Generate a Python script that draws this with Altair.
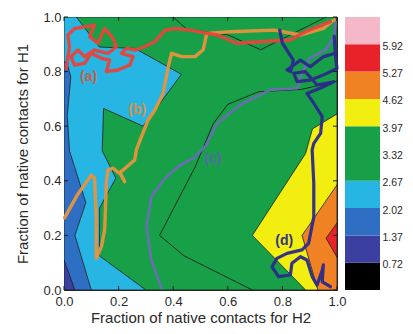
import altair as alt
import pandas as pd

# ---------------- data ----------------
# contour regions (polygon vertices, fraction units)
green_x = [0, 1, 1, 0]
green_y = [0, 0, 1, 1]
cyan_x = [0, 0.30, 0.13, 0.13, 0.19, 0.14, 0.145, 0.29, 0.43, 0.26, 0.13, 0.045, 0]
cyan_y = [0, 0, 0.125, 0.30, 0.41, 0.51, 0.665, 0.60, 0.79, 0.885, 0.89, 1.0, 1.0]
blue_x = [0, 0.10, 0.04, 0.08, 0.02, 0.012, 0.025, 0.01, 0]
blue_y = [0, 0, 0.20, 0.32, 0.51, 0.64, 0.78, 0.835, 0.835]
dkblue_x = [0, 0.04, 0]
dkblue_y = [0, 0, 0.11]
yellow_x = [1.0, 0.91, 0.885, 0.69, 0.885, 1.0]
yellow_y = [0.645, 0.59, 0.50, 0.20, 0.0, 0.0]
orange_x = [1.0, 0.872, 0.93, 1.0]
orange_y = [0.385, 0.20, 0.0, 0.0]
red_x = [1.0, 0.96, 1.0]
red_y = [0.245, 0.19, 0.12]

# contour lines inside the green band (level 3.32)
line1_x = [0.69, 0.44, 0.35, 0.48, 0.547, 0.60, 0.712, 0.87, 1.0]
line1_y = [0.0, 0.125, 0.20, 0.45, 0.61, 0.68, 0.726, 0.735, 0.765]
line2_x = [0.96, 0.72, 0.60, 0.45, 0.40]
line2_y = [1.0, 0.88, 0.935, 0.955, 1.0]

# trajectories
a_x = [0.008, 0.02, 0.014, 0.039, 0.082, 0.112, 0.094, 0.124, 0.149, 0.18, 0.192, 0.161, 0.112, 0.075,
       0.051, 0.026, 0.039, 0.075, 0.1, 0.137, 0.167, 0.155, 0.198, 0.241, 0.253, 0.21, 0.229, 0.259,
       0.296, 0.333, 0.37, 0.406, 0.461, 0.56, 0.633, 0.731, 0.829, 0.884, 0.976]
a_y = [0.812, 0.891, 0.934, 0.958, 0.965, 0.971, 0.928, 0.904, 0.958, 0.922, 0.891, 0.867, 0.879, 0.855,
       0.879, 0.855, 0.824, 0.83, 0.867, 0.849, 0.842, 0.80, 0.806, 0.824, 0.855, 0.867, 0.885, 0.879,
       0.891, 0.91, 0.952, 0.958, 0.952, 0.934, 0.904, 0.91, 0.916, 0.946, 0.983]
b_x = [0.002, 0.05, 0.10, 0.112, 0.118, 0.118, 0.137, 0.149, 0.155, 0.161, 0.18, 0.21, 0.222, 0.205,
       0.259, 0.265, 0.308, 0.333, 0.363, 0.382, 0.394, 0.431, 0.48, 0.51, 0.523, 0.61, 0.77, 0.866,
       0.95, 0.99]
b_y = [0.264, 0.35, 0.42, 0.41, 0.268, 0.116, 0.159, 0.22, 0.39, 0.44, 0.446, 0.421, 0.397, 0.43,
       0.476, 0.513, 0.623, 0.659, 0.72, 0.818, 0.867, 0.855, 0.855, 0.88, 0.94, 0.946, 0.952, 0.934,
       0.958, 0.99]
c_x = [0.357, 0.32, 0.302, 0.32, 0.37, 0.418, 0.48, 0.52, 0.56, 0.645, 0.755, 0.854, 0.87, 0.90,
       0.96, 0.99, 0.995]
c_y = [0.006, 0.11, 0.232, 0.342, 0.409, 0.452, 0.488, 0.53, 0.61, 0.678, 0.733, 0.739, 0.79, 0.85,
       0.88, 0.93, 0.98]
d_x = [0.79, 0.80, 0.84, 0.83, 0.817, 0.866, 0.902, 0.951, 0.994, 0.99, 0.995, 1.0, 0.951, 0.902,
       0.854, 0.841, 0.884, 0.927, 0.988, 0.94, 0.89, 0.915, 0.946, 0.94, 0.915, 0.909, 0.915, 0.915,
       0.896, 0.872, 0.817, 0.78, 0.762, 0.786, 0.829, 0.835, 0.866, 0.89, 0.909, 0.927, 0.946, 0.95,
       0.946, 0.976]
d_y = [0.952, 0.904, 0.842, 0.80, 0.806, 0.842, 0.818, 0.855, 0.867, 0.93, 0.85, 0.812, 0.788, 0.769,
       0.763, 0.794, 0.80, 0.751, 0.763, 0.74, 0.72, 0.684, 0.635, 0.574, 0.537, 0.513, 0.39, 0.268,
       0.171, 0.147, 0.134, 0.116, 0.085, 0.049, 0.055, 0.098, 0.122, 0.11, 0.049, 0.018, 0.073, 0.092,
       0.03, 0.012]

labels = ["(a)", "(b)", "(c)", "(d)"]
label_x = [0.09, 0.268, 0.546, 0.807]
label_y = [0.78, 0.66, 0.48, 0.18]

# colour bar
cb_lo = [0.07, 0.72, 1.37, 2.02, 2.67, 3.97, 4.62, 5.27, 5.92]
cb_hi = [0.72, 1.37, 2.02, 2.67, 3.97, 4.62, 5.27, 5.92, 6.57]
cb_ticks = [0.72, 1.37, 2.02, 2.67, 3.32, 3.97, 4.62, 5.27, 5.92]
ticks = [0, 0.2, 0.4, 0.6, 0.8, 1.0]

# ---------------- styles ----------------
C_BLACK = "#000000"
C_DKBLUE = "#3b3f9f"
C_BLUE = "#2f6fc3"
C_CYAN = "#27b5e3"
C_GREEN = "#17a048"
C_YELLOW = "#f2ee10"
C_ORANGE = "#f08224"
C_RED = "#e82228"
C_PINK = "#f5b8c8"
cb_color = [C_BLACK, C_DKBLUE, C_BLUE, C_CYAN, C_GREEN, C_YELLOW, C_ORANGE, C_RED, C_PINK]

W = H = 273
FONT = "Liberation Sans"


def poly(xs, ys, color):
    coords = [[x, y] for x, y in zip(xs, ys)]
    coords.append(coords[0])
    return {"type": "Feature", "properties": {"color": color},
            "geometry": {"type": "Polygon", "coordinates": [coords]}}


features = [
    poly(green_x, green_y, C_GREEN),
    poly(cyan_x, cyan_y, C_CYAN),
    poly(blue_x, blue_y, C_BLUE),
    poly(dkblue_x, dkblue_y, C_DKBLUE),
    poly(yellow_x, yellow_y, C_YELLOW),
    poly(orange_x, orange_y, C_ORANGE),
    poly(red_x, red_y, C_RED),
]

xscale = alt.Scale(domain=[0, 1], nice=False, zero=False)
yscale = alt.Scale(domain=[0, 1], nice=False, zero=False)
xaxis = alt.Axis(values=ticks, format=".1f", labelFlush=False, ticks=False, domain=False, grid=False,
                 labelPadding=5, labelFontSize=13, labelColor="#2a2a2a",
                 title="Fraction of native contacts for H2", titleFontSize=15, titleFontWeight="normal",
                 titleColor="#2a2a2a", titlePadding=2, labelFont=FONT, titleFont=FONT)
yaxis = alt.Axis(values=ticks, format=".1f", labelFlush=False, ticks=False, domain=False, grid=False,
                 labelPadding=3, labelFontSize=13, labelColor="#2a2a2a",
                 title="Fraction of native contacts for H1", titleFontSize=15, titleFontWeight="normal",
                 titleColor="#2a2a2a", titlePadding=12, labelFont=FONT, titleFont=FONT)


def X(f):
    return alt.X(f, type="quantitative", scale=xscale, axis=xaxis)


def Y(f):
    return alt.Y(f, type="quantitative", scale=yscale, axis=yaxis)


geo = alt.Chart(alt.Data(values=features)).mark_geoshape(
    stroke="#1e1e1e", strokeWidth=0.8
).encode(
    color=alt.Color("properties.color:N", scale=None)
).project(type="identity", scale=W, translate=[0, H], reflectY=True)


def path_df(xs, ys, name):
    return pd.DataFrame({"x": xs, "y": ys, "k": name, "o": list(range(len(xs)))})


clines = pd.concat([path_df(line1_x, line1_y, "l1"), path_df(line2_x, line2_y, "l2")])
contour_lines = alt.Chart(clines).mark_line(color="#1e1e1e", strokeWidth=0.9).encode(
    x=X("x"), y=Y("y"), detail="k:N", order="o:Q")


def traj(xs, ys, name, color, width):
    return alt.Chart(path_df(xs, ys, name)).mark_line(
        color=color, strokeWidth=width, strokeJoin="round", strokeCap="round", opacity=0.95
    ).encode(x=X("x"), y=Y("y"), order="o:Q")


t_c = traj(c_x, c_y, "c", "#6e6cb8", 2.6)
t_b = traj(b_x, b_y, "b", "#e8943c", 3.4)
t_a = traj(a_x, a_y, "a", "#e8453a", 3.4)
t_d = traj(d_x, d_y, "d", "#2b2a8c", 3.2)

lab_df = pd.DataFrame({"x": label_x, "y": label_y, "t": labels,
                       "c": ["#c8604c", "#d89048", "#5a66ae", "#34348a"]})
lab = alt.Chart(lab_df).mark_text(fontSize=14, font=FONT, fontWeight="bold").encode(
    x=X("x"), y=Y("y"), text="t:N", color=alt.Color("c:N", scale=None))

tick_df = pd.DataFrame({"v": ticks})
tk_bottom = alt.Chart(tick_df).mark_rule(color="#1e1e1e").encode(x=X("v"), y=alt.value(H), y2=alt.value(H - 4))
tk_top = alt.Chart(tick_df).mark_rule(color="#1e1e1e").encode(x=X("v"), y=alt.value(0), y2=alt.value(4))
tk_left = alt.Chart(tick_df).mark_rule(color="#1e1e1e").encode(y=Y("v"), x=alt.value(0), x2=alt.value(4))
tk_right = alt.Chart(tick_df).mark_rule(color="#1e1e1e").encode(y=Y("v"), x=alt.value(W), x2=alt.value(W - 4))

main = alt.layer(geo, contour_lines, t_c, t_b, t_a, t_d, lab, tk_bottom, tk_top, tk_left, tk_right)

cb_df = pd.DataFrame({"lo": cb_lo, "hi": cb_hi, "c": cb_color})
cbar = alt.Chart(cb_df).mark_rect().encode(
    x=alt.value(281), x2=alt.value(316),
    y=alt.Y("lo:Q", scale=alt.Scale(domain=[0.07, 6.57], nice=False, zero=False),
            axis=alt.Axis(orient="right", values=cb_ticks, format=".2f", offset=43, domain=False,
                          ticks=False, grid=False, labelPadding=2, labelFontSize=10.5, labelFont=FONT,
                          labelOffset=2, labelColor="#2a2a2a", title=None)),
    y2="hi:Q",
    color=alt.Color("c:N", scale=None),
)

chart = alt.layer(main, cbar).resolve_scale(y="independent").properties(
    width=W, height=H, autosize=alt.AutoSizeParams(type="none"),
    padding={"left": 56, "top": 9, "right": 68, "bottom": 38},
).configure_view(stroke="#222222", strokeWidth=1)

chart.save("out.html", embed_options={"renderer": "svg", "actions": False})
